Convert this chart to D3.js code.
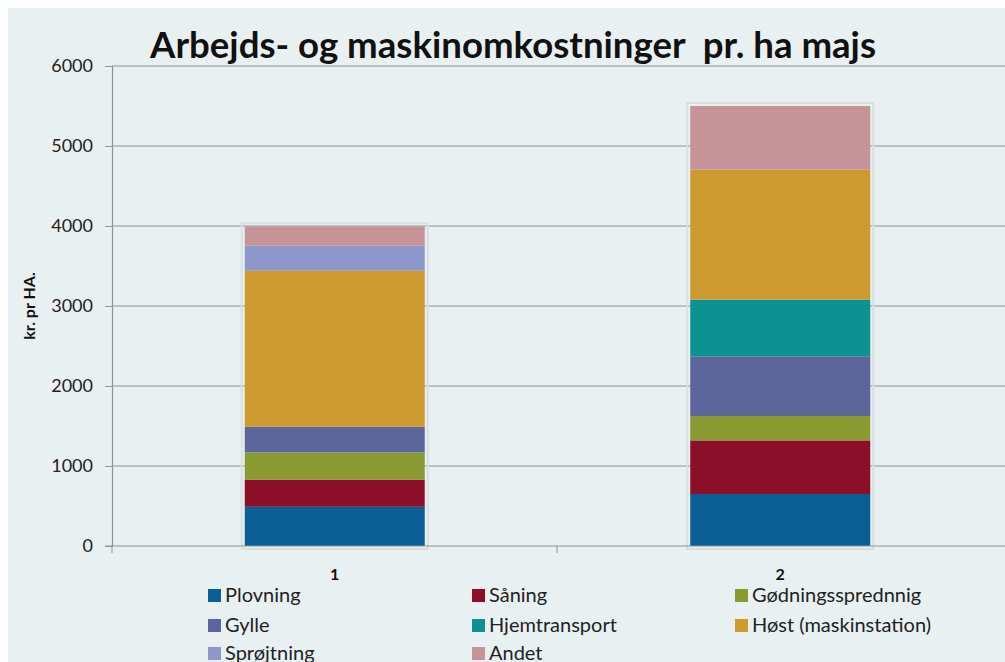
<!DOCTYPE html>
<html lang="da">
<head>
  <meta charset="UTF-8">
  <title>Arbejds- og maskinomkostninger pr. ha majs</title>
  <script src="https://d3js.org/d3.v7.min.js"></script>
  <style>
    body {
      margin: 0;
      background-color: #ffffff;
      font-family: Lato, "Open Sans", sans-serif;
    }
    svg { display: block; }
  </style>
</head>
<body>
  <div id="chart"></div>

  <script>
    // Chart data
    const categories = ['1', '2'];
    const seriesNames = ['Plovning', 'Såning', 'Gødningsspredning', 'Gylle', 'Hjemtransport',
                         'Høst (maskinstation)', 'Sprøjtning', 'Andet'];
    const legendLabels = ['Plovning', 'Såning', 'Gødningssprednnig', 'Gylle', 'Hjemtransport',
                          'Høst (maskinstation)', 'Sprøjtning', 'Andet'];
    const values1 = [490, 340, 340, 320, 0, 1950, 315, 240];
    const values2 = [650, 670, 305, 745, 710, 1625, 0, 795];
    const seriesColors = ['#0b5e95', '#8c0f29', '#8a9a33', '#5c669d', '#0e9191',
                          '#cc9a31', '#8e97c9', '#c69498'];
    const yTicks = [0, 1000, 2000, 3000, 4000, 5000, 6000];

    const width = 1005, height = 662;

    const svg = d3.select('#chart')
      .append('svg')
      .attr('width', width)
      .attr('height', height)
      .style('font-family', 'Lato, sans-serif');

    // Background panel
    svg.append('rect')
      .attr('x', 8).attr('y', 8)
      .attr('width', width - 8).attr('height', height - 8)
      .attr('fill', '#e9f0f2');

    // Title
    svg.append('text')
      .attr('x', 150).attr('y', 58)
      .attr('textLength', 726)
      .attr('lengthAdjust', 'spacingAndGlyphs')
      .style('white-space', 'pre')
      .style('font-size', '36px')
      .style('font-weight', 'bold')
      .style('fill', '#111')
      .text('Arbejds- og maskinomkostninger  pr. ha majs');

    const y = d3.scaleLinear()
      .domain([0, 6000])
      .range([546, 66]);

    const x = d3.scaleBand()
      .domain(categories)
      .range([112, 1003])
      .paddingInner(0.4)
      .paddingOuter(0.2);

    // Gridlines
    svg.append('g')
      .selectAll('line')
      .data(yTicks.filter(d => d > 0))
      .enter()
      .append('line')
      .attr('x1', 112).attr('x2', width)
      .attr('y1', d => y(d)).attr('y2', d => y(d))
      .attr('stroke', '#8e9496')
      .attr('stroke-width', 1.2);

    // Y axis
    const yAxis = svg.append('g')
      .attr('transform', 'translate(112,0)')
      .call(d3.axisLeft(y).tickValues(yTicks).tickFormat(d3.format('d')).tickSize(7).tickPadding(12));
    yAxis.select('.domain').attr('stroke', '#8e9496').attr('stroke-width', 1.2);
    yAxis.selectAll('.tick line').attr('stroke', '#8e9496');
    yAxis.selectAll('.tick text')
      .style('font-size', '18px')
      .style('fill', '#222')
      .style('font-family', 'Lato, sans-serif');

    // Y axis title
    svg.append('text')
      .attr('transform', 'translate(35,306) rotate(-90)')
      .attr('text-anchor', 'middle')
      .style('font-size', '16px')
      .style('font-weight', 'bold')
      .style('fill', '#111')
      .text('kr. pr HA.');

    // Stacked data
    const table = categories.map((c, i) => {
      const row = { cat: c };
      const vals = i === 0 ? values1 : values2;
      seriesNames.forEach((s, j) => { row[s] = vals[j]; });
      return row;
    });
    const stacked = d3.stack().keys(seriesNames)(table);
    const barW = 180;

    // Faint bar outline
    svg.append('g')
      .selectAll('rect')
      .data(table)
      .enter()
      .append('rect')
      .attr('x', d => x(d.cat) + x.bandwidth() / 2 - barW / 2 - 3)
      .attr('y', d => y(d3.sum(seriesNames, s => d[s])) - 3)
      .attr('width', barW + 6)
      .attr('height', d => y(0) - y(d3.sum(seriesNames, s => d[s])) + 6)
      .attr('fill', 'none')
      .attr('stroke', '#d8dee0')
      .attr('stroke-width', 2);

    svg.append('g')
      .selectAll('g')
      .data(stacked)
      .enter()
      .append('g')
      .attr('fill', (d, i) => seriesColors[i])
      .selectAll('rect')
      .data(d => d)
      .enter()
      .append('rect')
      .attr('x', d => x(d.data.cat) + x.bandwidth() / 2 - barW / 2)
      .attr('y', d => y(d[1]))
      .attr('width', barW)
      .attr('height', d => y(d[0]) - y(d[1]));

    // X axis
    svg.append('line')
      .attr('x1', 105).attr('x2', width)
      .attr('y1', 546).attr('y2', 546)
      .attr('stroke', '#8e9496')
      .attr('stroke-width', 1.2);
    [112, 557].forEach(px => {
      svg.append('line')
        .attr('x1', px).attr('x2', px)
        .attr('y1', 546).attr('y2', 553)
        .attr('stroke', '#8e9496');
    });
    svg.append('g')
      .selectAll('text')
      .data(categories)
      .enter()
      .append('text')
      .attr('x', d => x(d) + x.bandwidth() / 2)
      .attr('y', 580)
      .attr('text-anchor', 'middle')
      .style('font-size', '16px')
      .style('font-weight', 'bold')
      .style('fill', '#111')
      .text(d => d);

    // Legend
    const colX = [208, 472, 735];
    const rowY = [595, 625, 653];
    const legend = svg.append('g')
      .selectAll('g')
      .data(legendLabels)
      .enter()
      .append('g')
      .attr('transform', (d, i) => `translate(${colX[i % 3]},${rowY[Math.floor(i / 3)]})`);
    legend.append('rect')
      .attr('x', 0).attr('y', -6)
      .attr('width', 13).attr('height', 13)
      .attr('fill', (d, i) => seriesColors[i]);
    legend.append('text')
      .attr('x', 17).attr('y', 7)
      .style('font-size', '20px')
      .style('fill', '#222')
      .text(d => d);
  </script>
</body>
</html>
